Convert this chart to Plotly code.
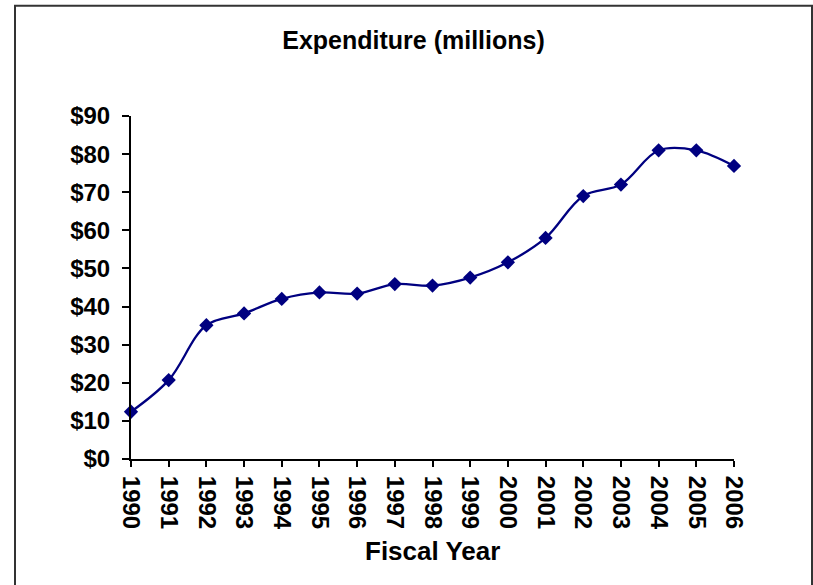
import plotly.graph_objects as go

years = [1990, 1991, 1992, 1993, 1994, 1995, 1996, 1997, 1998, 1999,
         2000, 2001, 2002, 2003, 2004, 2005, 2006]
year_labels = [str(y) for y in years]
expenditure = [12.4, 20.7, 35.1, 38.2, 42.0, 43.7, 43.4, 45.9, 45.5, 47.6,
               51.6, 58.0, 69.0, 72.0, 81.0, 81.0, 76.9]
y_ticks = [0, 10, 20, 30, 40, 50, 60, 70, 80, 90]

W, H = 813, 585
L, R, T, B = 131, 79, 116, 126
pw, ph = W - L - R, H - T - B

def px_x(x):
    return (x - L) / pw

def px_y(y):
    return (H - B - y) / ph

FONT = "Liberation Sans, Arial, sans-serif"
NAVY = "#000080"

fig = go.Figure()
fig.add_trace(go.Scatter(
    x=years, y=expenditure, mode="lines+markers",
    line=dict(color=NAVY, width=2.3, shape="spline", smoothing=1.0),
    marker=dict(symbol="diamond", size=11, color=NAVY),
    cliponaxis=False,
    showlegend=False, hoverinfo="x+y",
))

fig.update_layout(
    width=W, height=H,
    margin=dict(l=L, r=R, t=T, b=B, autoexpand=False),
    paper_bgcolor="white", plot_bgcolor="white",
    title=dict(text="Expenditure (millions)", xref="container", yref="container",
               x=413.5 / W, y=1 - 40 / H, xanchor="center", yanchor="middle",
               font=dict(family=FONT, size=25, color="black", weight="bold")),
    xaxis=dict(range=[1990, 2006], tickmode="array", tickvals=years, ticktext=year_labels,
               tickangle=90, ticks="outside", ticklen=6, tickwidth=2, tickcolor="black",
               showline=True, linecolor="black", linewidth=2, showgrid=False, zeroline=False,
               ticklabelstandoff=4, automargin=False,
               tickfont=dict(family=FONT, size=24, color="black", weight="bold")),
    yaxis=dict(range=[0, 90], tickmode="array", tickvals=y_ticks,
               ticktext=["$" + str(v) for v in y_ticks],
               ticks="outside", ticklen=7, tickwidth=2, tickcolor="black",
               showline=True, linecolor="black", linewidth=2, showgrid=False, zeroline=False,
               ticklabelstandoff=7, automargin=False,
               tickfont=dict(family=FONT, size=24, color="black", weight="bold")),
    annotations=[dict(text="Fiscal Year", xref="paper", yref="paper",
                      x=0.5, y=px_y(551), xanchor="center", yanchor="middle",
                      showarrow=False,
                      font=dict(family=FONT, size=26, color="black", weight="bold"))],
    shapes=[dict(type="rect", xref="paper", yref="paper",
                 x0=px_x(15), x1=px_x(812), y0=px_y(620), y1=px_y(5.8),
                 line=dict(color="#333333", width=2), fillcolor="rgba(0,0,0,0)",
                 layer="below")],
)
fig.update_xaxes(fixedrange=True)
fig.update_yaxes(fixedrange=True)
fig.write_html("out.html",
               config={"displayModeBar": False, "staticPlot": True},
               post_script="document.body.style.margin='0';document.body.style.overflow='hidden';")
